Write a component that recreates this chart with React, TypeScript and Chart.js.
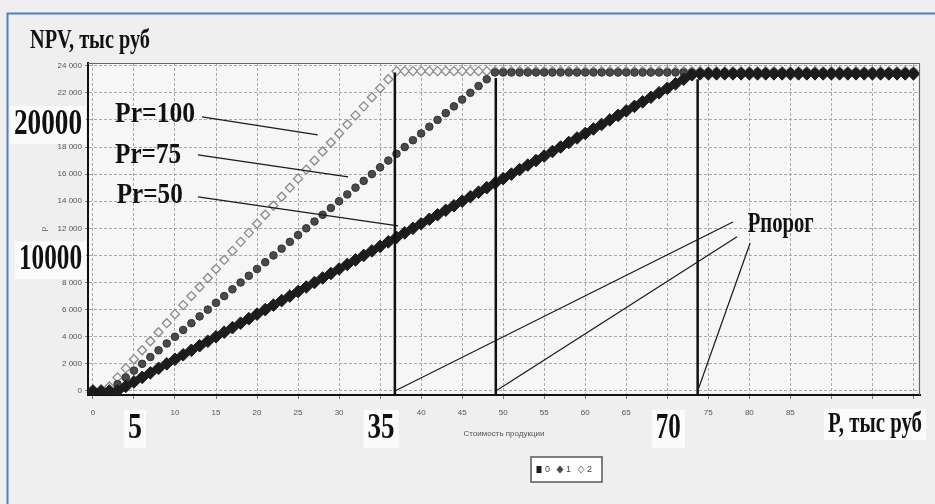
import React, { useEffect, useRef } from "react";
import { Chart, registerables } from "chart.js";

Chart.register(...registerables);

// ---- data ----
const xValues = [
  0, 1, 2, 3, 4, 5, 6, 7, 8, 9, 10, 11, 12, 13, 14, 15, 16, 17, 18, 19, 20,
  21, 22, 23, 24, 25, 26, 27, 28, 29, 30, 31, 32, 33, 34, 35, 36, 37, 38, 39, 40,
  41, 42, 43, 44, 45, 46, 47, 48, 49, 50, 51, 52, 53, 54, 55, 56, 57, 58, 59, 60,
  61, 62, 63, 64, 65, 66, 67, 68, 69, 70, 71, 72, 73, 74, 75, 76, 77, 78, 79, 80,
  81, 82, 83, 84, 85, 86, 87, 88, 89, 90, 91, 92, 93, 94, 95, 96, 97, 98, 99, 100,
];

// Pr = 50 (series "0")
const npvPr50 = [
  0, 0, 0, 0, 333, 667, 1000, 1333, 1667, 2000, 2333, 2667, 3000, 3333, 3667, 4000,
  4333, 4667, 5000, 5333, 5667, 6000, 6333, 6667, 7000, 7333, 7667, 8000, 8333, 8667,
  9000, 9333, 9667, 10000, 10333, 10667, 11000, 11333, 11667, 12000, 12333, 12667,
  13000, 13333, 13667, 14000, 14333, 14667, 15000, 15333, 15667, 16000, 16333, 16667,
  17000, 17333, 17667, 18000, 18333, 18667, 19000, 19333, 19667, 20000, 20333, 20667,
  21000, 21333, 21667, 22000, 22333, 22667, 23000, 23333, 23400,
  23400, 23400, 23400, 23400, 23400, 23400, 23400, 23400, 23400, 23400, 23400, 23400, 23400,
  23400, 23400, 23400, 23400, 23400, 23400, 23400, 23400, 23400, 23400, 23400, 23400, 23400,
];

// Pr = 75 (series "1")
const npvPr75 = [
  0, 0, 0, 500, 1000, 1500, 2000, 2500, 3000, 3500, 4000, 4500, 5000, 5500, 6000, 6500,
  7000, 7500, 8000, 8500, 9000, 9500, 10000, 10500, 11000, 11500, 12000, 12500, 13000,
  13500, 14000, 14500, 15000, 15500, 16000, 16500, 17000, 17500, 18000, 18500, 19000,
  19500, 20000, 20500, 21000, 21500, 22000, 22500, 23000, 23500,
  23500, 23500, 23500, 23500, 23500, 23500, 23500, 23500, 23500, 23500, 23500, 23500, 23500,
  23500, 23500, 23500, 23500, 23500, 23500, 23500, 23500, 23500, 23500, 23500, 23500, 23500,
  23500, 23500, 23500, 23500, 23500, 23500, 23500, 23500, 23500, 23500, 23500, 23500, 23500,
  23500, 23500, 23500, 23500, 23500, 23500, 23500, 23500, 23500, 23500, 23500, 23500, 23500,
];

// Pr = 100 (series "2")
const npvPr100 = [
  0, 0, 333, 1000, 1667, 2333, 3000, 3667, 4333, 5000, 5667, 6333, 7000, 7667, 8333,
  9000, 9667, 10333, 11000, 11667, 12333, 13000, 13667, 14333, 15000, 15667, 16333,
  17000, 17667, 18333, 19000, 19667, 20333, 21000, 21667, 22333, 23000,
  23600, 23600, 23600, 23600, 23600, 23600, 23600, 23600, 23600, 23600, 23600, 23600, 23600, 23600, 23600, 23600,
  23600, 23600, 23600, 23600, 23600, 23600, 23600, 23600, 23600, 23600, 23600, 23600, 23600, 23600, 23600, 23600,
  23600, 23600, 23600, 23600, 23600, 23600, 23600, 23600, 23600, 23600, 23600, 23600, 23600, 23600, 23600, 23600,
  23600, 23600, 23600, 23600, 23600, 23600, 23600, 23600, 23600, 23600, 23600, 23600, 23600, 23600, 23600, 23600,
];

const seriesLabels = ["0", "1", "2"];

// threshold price lines (Рпорог)
const thresholdX = [36.8, 49.1, 73.7];
const thresholdTop = [23500, 23100, 23000];

// axis settings and tick values
const xMin = -0.6;
const xMax = 100.8;
const yMin = -300;
const yMax = 24200;
const xTickValues = [0, 5, 10, 15, 20, 25, 30, 35, 40, 45, 50, 55, 60, 65, 70, 75, 80, 85, 90, 95, 100];
const yTickValues = [0, 2000, 4000, 6000, 8000, 10000, 12000, 14000, 16000, 18000, 20000, 22000, 24000];

// annotations
const curveLabels = ["Pr=100", "Pr=75", "Pr=50"];
const curveLabelX = [2.7, 2.7, 2.9];
const curveLabelY = [19850, 16830, 13870];
const curveLabelW = [80, 66, 66];
const leaderFromX = [13.3, 12.8, 12.8];
const leaderFromY = [20220, 17420, 14320];
const leaderToX = [27.4, 31.1, 37.2];
const leaderToY = [18890, 15790, 12180];

const thresholdLabel = "Рпорог";
const thresholdLabelX = 79.8;
const thresholdLabelY = 11730;
const thresholdLeaderFromX = [78.0, 78.5, 80.1];
const thresholdLeaderFromY = [12470, 11370, 10920];

const bigYLabels = [20000, 10000];
const bigYLabelW = [68, 63];
const bigXLabels = [5, 35, 70];
const bigXLabelW = [14, 27, 25];
const yAxisTitle = "NPV, тыс руб";
const xAxisTitle = "P, тыс руб";
const xAxisSmallTitle = "Стоимость продукции";
const ySmallTitle = "р";

const SERIF = '"Liberation Serif", "Times New Roman", serif';
const SANS = '"Liberation Sans Narrow", "Liberation Sans", Arial, sans-serif';

function fmtThousands(v: number): string {
  const s = String(Math.round(v));
  return s.replace(/\B(?=(\d{3})+(?!\d))/g, " ");
}

function condensedText(
  ctx: CanvasRenderingContext2D,
  text: string,
  x: number,
  baseline: number,
  size: number,
  width: number,
  align: "left" | "center" | "right",
  bg?: string
) {
  ctx.save();
  ctx.font = `bold ${size}px ${SERIF}`;
  const natural = ctx.measureText(text).width;
  const sx = width / natural;
  const left = align === "center" ? x - width / 2 : align === "right" ? x - width : x;
  if (bg) {
    ctx.fillStyle = bg;
    ctx.fillRect(left - 4, baseline - size * 0.8, width + 8, size * 1.08);
  }
  ctx.translate(left, baseline);
  ctx.scale(sx, 1);
  ctx.fillStyle = "#111";
  ctx.textAlign = "left";
  ctx.textBaseline = "alphabetic";
  ctx.fillText(text, 0, 0);
  ctx.restore();
}

const decorPlugin = {
  id: "decor",
  beforeDraw(chart: any) {
    const { ctx, chartArea: a, width, height } = chart;
    ctx.save();
    ctx.fillStyle = "#efefef";
    ctx.fillRect(0, 0, width, height);
    ctx.strokeStyle = "#4f81bd";
    ctx.lineWidth = 2;
    ctx.beginPath();
    ctx.moveTo(7.5, height);
    ctx.lineTo(7.5, 13.5);
    ctx.lineTo(width, 13.5);
    ctx.stroke();
    ctx.fillStyle = "#f6f6f6";
    ctx.fillRect(a.left, a.top, a.right - a.left, a.bottom - a.top);
    ctx.restore();
  },
  afterDraw(chart: any) {
    const { ctx, chartArea: a, scales } = chart;
    const xs = scales.x;
    const ys = scales.y;
    ctx.save();
    // top / right frame
    ctx.strokeStyle = "#666";
    ctx.lineWidth = 1.2;
    ctx.beginPath();
    ctx.moveTo(a.left, a.top + 0.5);
    ctx.lineTo(a.right - 0.5, a.top + 0.5);
    ctx.lineTo(a.right - 0.5, a.bottom);
    ctx.stroke();

    // leader lines
    ctx.strokeStyle = "#1a1a1a";
    ctx.lineWidth = 1.2;
    for (let i = 0; i < curveLabels.length; i++) {
      ctx.beginPath();
      ctx.moveTo(xs.getPixelForValue(leaderFromX[i]), ys.getPixelForValue(leaderFromY[i]));
      ctx.lineTo(xs.getPixelForValue(leaderToX[i]), ys.getPixelForValue(leaderToY[i]));
      ctx.stroke();
    }
    for (let i = 0; i < thresholdX.length; i++) {
      ctx.beginPath();
      ctx.moveTo(xs.getPixelForValue(thresholdLeaderFromX[i]), ys.getPixelForValue(thresholdLeaderFromY[i]));
      ctx.lineTo(xs.getPixelForValue(thresholdX[i]), ys.getPixelForValue(0));
      ctx.stroke();
    }

    // curve labels
    for (let i = 0; i < curveLabels.length; i++) {
      condensedText(ctx, curveLabels[i], xs.getPixelForValue(curveLabelX[i]), ys.getPixelForValue(curveLabelY[i]), 30, curveLabelW[i], "left");
    }
    condensedText(ctx, thresholdLabel, xs.getPixelForValue(thresholdLabelX), ys.getPixelForValue(thresholdLabelY), 30, 66, "left");

    // big axis labels
    for (let i = 0; i < bigYLabels.length; i++) {
      condensedText(ctx, String(bigYLabels[i]), a.left - 6, ys.getPixelForValue(bigYLabels[i]) + 14, 35, bigYLabelW[i], "right", "#fbfbfb");
    }
    for (let i = 0; i < bigXLabels.length; i++) {
      condensedText(ctx, String(bigXLabels[i]), xs.getPixelForValue(bigXLabels[i]) + 1, a.bottom + 43, 35, bigXLabelW[i], "center", "#fbfbfb");
    }
    condensedText(ctx, xAxisTitle, a.right + 2, a.bottom + 37, 29, 94, "right", "#fbfbfb");
    condensedText(ctx, yAxisTitle, a.left - 58, a.top - 15, 28, 120, "left");

    // small axis titles
    ctx.fillStyle = "#555";
    ctx.font = `8px ${SANS}`;
    ctx.textAlign = "center";
    ctx.textBaseline = "middle";
    ctx.fillText(xAxisSmallTitle, (a.left + a.right) / 2, a.bottom + 39);
    ctx.save();
    ctx.translate(a.left - 44, (a.top + a.bottom) / 2);
    ctx.rotate(-Math.PI / 2);
    ctx.fillText(ySmallTitle, 0, 0);
    ctx.restore();

    // legend
    const lx = a.left + 443;
    const ly = a.bottom + 62;
    ctx.fillStyle = "#ffffff";
    ctx.fillRect(lx, ly, 71, 25);
    ctx.strokeStyle = "#555";
    ctx.lineWidth = 1.5;
    ctx.strokeRect(lx, ly, 71, 25);
    const cy = ly + 12.5;
    const offs = [8, 29, 50];
    const dsets = chart.data.datasets;
    for (let i = 0; i < seriesLabels.length; i++) {
      const mx = lx + offs[i];
      const ds = dsets[i];
      ctx.fillStyle = ds.pointBackgroundColor;
      ctx.strokeStyle = ds.pointBorderColor;
      ctx.lineWidth = 1;
      ctx.beginPath();
      if (i === 0) {
        ctx.rect(mx - 2.5, cy - 3.5, 5, 7);
        ctx.fill();
      } else if (i === 1) {
        ctx.moveTo(mx, cy - 4);
        ctx.lineTo(mx + 3.5, cy);
        ctx.lineTo(mx, cy + 4);
        ctx.lineTo(mx - 3.5, cy);
        ctx.closePath();
        ctx.fill();
      } else {
        ctx.moveTo(mx, cy - 3.5);
        ctx.lineTo(mx + 3, cy);
        ctx.lineTo(mx, cy + 3.5);
        ctx.lineTo(mx - 3, cy);
        ctx.closePath();
        ctx.fill();
        ctx.stroke();
      }
      ctx.fillStyle = "#444";
      ctx.font = `9px ${SANS}`;
      ctx.textAlign = "left";
      ctx.fillText(seriesLabels[i], mx + 6, cy);
    }
    ctx.restore();
  },
};

export default function App() {
  const ref = useRef<HTMLCanvasElement>(null);

  useEffect(() => {
    const pts = (vals: number[]) => xValues.map((x, i) => ({ x, y: vals[i] }));
    const vlines = thresholdX.map((x, i) => ({
      type: "line" as const,
      label: "vline" + i,
      data: [
        { x, y: yMin },
        { x, y: thresholdTop[i] },
      ],
      showLine: true,
      borderColor: "#111",
      borderWidth: 2.5,
      pointRadius: 0,
      order: -1,
    }));
    const chart = new Chart(ref.current as HTMLCanvasElement, {
      type: "scatter",
      data: {
        datasets: [
          {
            label: seriesLabels[0],
            data: pts(npvPr50),
            pointStyle: "rectRot",
            pointRadius: 6.3,
            pointBackgroundColor: "#1c1c1c",
            pointBorderColor: "#1c1c1c",
            pointBorderWidth: 1,
            showLine: false,
          },
          {
            label: seriesLabels[1],
            data: pts(npvPr75),
            pointStyle: "circle",
            pointRadius: 3.8,
            pointBackgroundColor: "#4a4a4a",
            pointBorderColor: "#333",
            pointBorderWidth: 1,
            showLine: false,
          },
          {
            label: seriesLabels[2],
            data: pts(npvPr100),
            pointStyle: "rectRot",
            pointRadius: 4.5,
            pointBackgroundColor: "#f4f4f4",
            pointBorderColor: "#8a8a8a",
            pointBorderWidth: 1.3,
            showLine: false,
          },
          ...vlines,
        ] as any,
      },
      options: {
        animation: false,
        responsive: false,
        devicePixelRatio: 1,
        layout: { padding: { left: 0, top: 63, right: 15, bottom: 0 } },
        plugins: {
          legend: { display: false },
          tooltip: { enabled: false },
          title: { display: false },
        },
        scales: {
          x: {
            type: "linear",
            position: "bottom",
            min: xMin,
            max: xMax,
            afterBuildTicks: (s: any) => {
              s.ticks = xTickValues.map((v) => ({ value: v }));
            },
            ticks: {
              color: "#555",
              padding: 9,
              maxRotation: 0,
              autoSkip: false,
              font: { size: 8, family: SANS },
            },
            grid: { color: "#a9a9a9", lineWidth: 1, tickLength: 4, tickColor: "#777" },
            border: { display: true, color: "#111", width: 2, dash: [3, 2] },
            afterFit: (s: any) => {
              s.height = 109;
            },
          },
          y: {
            type: "linear",
            position: "left",
            min: yMin,
            max: yMax,
            afterBuildTicks: (s: any) => {
              s.ticks = yTickValues.map((v) => ({ value: v }));
            },
            ticks: {
              color: "#555",
              padding: 3,
              autoSkip: false,
              font: { size: 8, family: SANS },
              callback: (v: any) => fmtThousands(Number(v)),
            },
            grid: { color: "#a9a9a9", lineWidth: 1, tickLength: 3, tickColor: "#777" },
            border: { display: true, color: "#111", width: 2, dash: [3, 2] },
            afterFit: (s: any) => {
              s.width = 88;
            },
          },
        },
      } as any,
      plugins: [decorPlugin],
    });
    return () => chart.destroy();
  }, []);

  return (
    <div style={{ position: "fixed", left: 0, top: 0, width: 935, height: 504, background: "#efefef" }}>
      <canvas ref={ref} width={935} height={504} style={{ display: "block", width: 935, height: 504 }} />
    </div>
  );
}
